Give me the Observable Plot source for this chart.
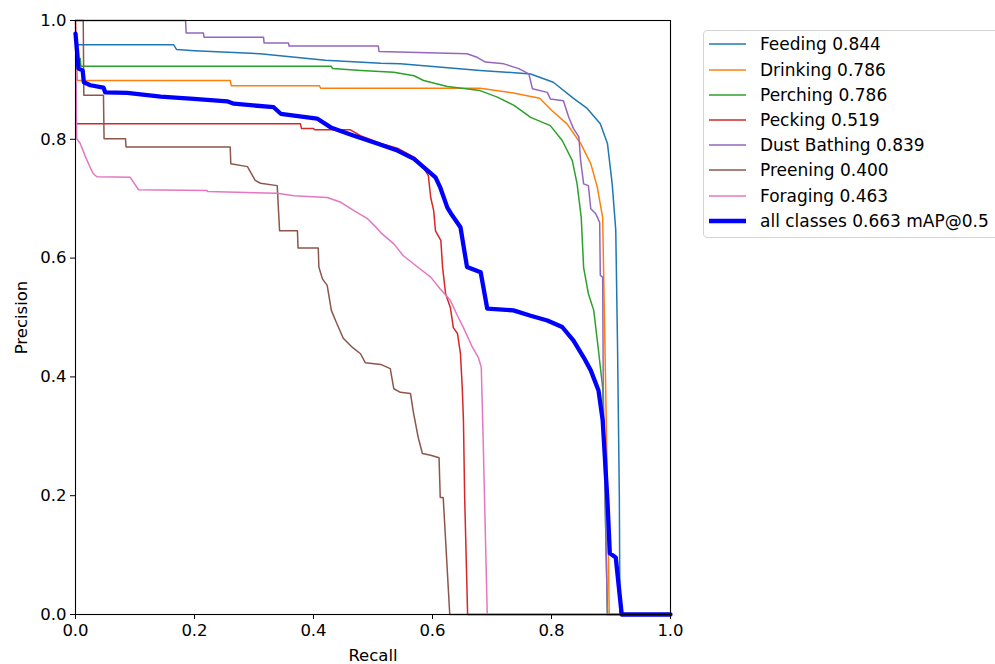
<!DOCTYPE html>
<html><head><meta charset="utf-8">
<script src="https://cdn.jsdelivr.net/npm/d3@7"></script>
<script src="https://cdn.jsdelivr.net/npm/@observablehq/plot@0.6"></script>
<style>
body{margin:0;background:#fff;font-family:"DejaVu Sans",sans-serif;}
#wrap{position:relative;width:995px;height:664px;overflow:hidden;background:#fff;}
#legend{position:absolute;left:703px;top:30px;width:330px;height:206px;border:1px solid #d4d4d4;border-radius:4px;background:#fff;}
.row{position:absolute;left:0;width:330px;height:22px;}
.sw{position:absolute;left:5px;top:0;}
.lt{position:absolute;left:56px;top:0;font-size:17px;line-height:22px;color:#000;white-space:nowrap;}
</style>
</head><body>
<div id="wrap"><div id="chart"></div><div id="legend"></div></div>
<script>
// Series names, AP values and colours
const names = ["Feeding", "Drinking", "Perching", "Pecking", "Dust Bathing", "Preening", "Foraging"];
const apValues = ["0.844", "0.786", "0.786", "0.519", "0.839", "0.400", "0.463"];
const colors = ["#1f77b4", "#ff7f0e", "#2ca02c", "#d62728", "#9467bd", "#8c564b", "#e377c2"];
const allLabel = "all classes 0.663 mAP@0.5";
const allColor = "#0000ff";

const feedingR = [0, 0.165, 0.17, 0.20, 0.31, 0.42, 0.513, 0.546, 0.68, 0.765, 0.803, 0.837, 0.86, 0.882, 0.894, 0.902, 0.908, 0.911, 0.914, 0.915, 1.0];
const feedingP = [0.959, 0.959, 0.951, 0.949, 0.944, 0.933, 0.928, 0.927, 0.916, 0.910, 0.896, 0.869, 0.852, 0.826, 0.793, 0.725, 0.647, 0.45, 0.2, 0, 0];

const drinkingR = [0, 0.003, 0.26, 0.262, 0.41, 0.412, 0.68, 0.736, 0.78, 0.80, 0.826, 0.849, 0.866, 0.877, 0.886, 0.892, 0.895, 0.897, 1.0];
const drinkingP = [1.0, 0.899, 0.899, 0.89, 0.89, 0.886, 0.886, 0.878, 0.869, 0.849, 0.826, 0.793, 0.759, 0.719, 0.668, 0.327, 0.15, 0, 0];

const perchingR = [0, 0.008, 0.009, 0.43, 0.432, 0.48, 0.535, 0.569, 0.585, 0.625, 0.68, 0.709, 0.737, 0.765, 0.798, 0.818, 0.835, 0.843, 0.85, 0.854, 0.862, 0.871, 0.879, 0.886, 0.888, 0.894, 1.0];
const perchingP = [0.936, 0.936, 0.923, 0.923, 0.919, 0.916, 0.913, 0.907, 0.899, 0.889, 0.882, 0.871, 0.857, 0.837, 0.823, 0.798, 0.764, 0.725, 0.668, 0.584, 0.540, 0.512, 0.444, 0.382, 0.30, 0, 0];

const peckingR = [0, 0.378, 0.38, 0.40, 0.402, 0.462, 0.479, 0.513, 0.541, 0.569, 0.585, 0.593, 0.597, 0.602, 0.605, 0.614, 0.617, 0.622, 0.630, 0.635, 0.642, 0.647, 0.650, 0.652, 0.654, 0.659, 1.0];
const peckingP = [0.826, 0.826, 0.818, 0.818, 0.816, 0.816, 0.806, 0.793, 0.785, 0.770, 0.752, 0.739, 0.702, 0.68, 0.646, 0.630, 0.584, 0.540, 0.517, 0.483, 0.473, 0.439, 0.382, 0.327, 0.2, 0, 0];

const dustR = [0, 0.185, 0.186, 0.215, 0.216, 0.316, 0.317, 0.358, 0.359, 0.509, 0.51, 0.658, 0.675, 0.689, 0.72, 0.745, 0.762, 0.768, 0.793, 0.798, 0.82, 0.829, 0.837, 0.846, 0.849, 0.854, 0.862, 0.866, 0.874, 0.877, 0.881, 0.882, 0.886, 0.887, 0.890, 0.894, 1.0];
const dustP = [1, 1, 0.979, 0.979, 0.972, 0.972, 0.962, 0.962, 0.957, 0.957, 0.948, 0.944, 0.938, 0.930, 0.927, 0.919, 0.910, 0.885, 0.879, 0.868, 0.865, 0.837, 0.818, 0.804, 0.764, 0.725, 0.722, 0.683, 0.675, 0.669, 0.660, 0.571, 0.568, 0.382, 0.2, 0, 0];

const preeningR = [0, 0.013, 0.014, 0.047, 0.048, 0.084, 0.085, 0.26, 0.261, 0.289, 0.302, 0.311, 0.339, 0.343, 0.373, 0.374, 0.408, 0.409, 0.415, 0.423, 0.430, 0.437, 0.45, 0.465, 0.479, 0.487, 0.513, 0.529, 0.535, 0.546, 0.563, 0.568, 0.576, 0.583, 0.597, 0.611, 0.613, 0.618, 0.629, 1.0];
const preeningP = [1, 1, 0.874, 0.874, 0.801, 0.801, 0.787, 0.787, 0.759, 0.754, 0.731, 0.726, 0.722, 0.646, 0.646, 0.617, 0.617, 0.585, 0.565, 0.554, 0.512, 0.495, 0.465, 0.45, 0.439, 0.424, 0.421, 0.414, 0.38, 0.374, 0.372, 0.340, 0.298, 0.271, 0.268, 0.264, 0.197, 0.197, 0, 0];

const foragingR = [0, 0.002, 0.008, 0.017, 0.025, 0.03, 0.036, 0.092, 0.106, 0.221, 0.222, 0.339, 0.367, 0.423, 0.446, 0.468, 0.49, 0.507, 0.513, 0.535, 0.551, 0.575, 0.597, 0.613, 0.630, 0.642, 0.652, 0.667, 0.677, 0.682, 0.685, 0.692, 1.0];
const foragingP = [1, 0.801, 0.793, 0.770, 0.752, 0.742, 0.737, 0.736, 0.715, 0.714, 0.712, 0.709, 0.705, 0.702, 0.694, 0.680, 0.667, 0.65, 0.643, 0.624, 0.604, 0.585, 0.568, 0.548, 0.529, 0.503, 0.483, 0.450, 0.433, 0.416, 0.30, 0, 0];

const allR = [0, 0.003, 0.005, 0.012, 0.014, 0.025, 0.047, 0.05, 0.087, 0.143, 0.199, 0.255, 0.266, 0.333, 0.345, 0.406, 0.429, 0.468, 0.507, 0.541, 0.569, 0.585, 0.605, 0.613, 0.625, 0.633, 0.647, 0.658, 0.681, 0.692, 0.736, 0.765, 0.793, 0.818, 0.837, 0.854, 0.866, 0.879, 0.886, 0.894, 0.898, 0.908, 0.918, 1.0];
const allP = [0.978, 0.944, 0.919, 0.916, 0.896, 0.891, 0.887, 0.879, 0.878, 0.872, 0.868, 0.864, 0.860, 0.854, 0.843, 0.835, 0.820, 0.806, 0.793, 0.781, 0.767, 0.753, 0.736, 0.719, 0.685, 0.672, 0.652, 0.585, 0.576, 0.515, 0.512, 0.503, 0.495, 0.484, 0.461, 0.433, 0.411, 0.377, 0.327, 0.192, 0.103, 0.096, 0, 0];

const tickValues = [0, 0.2, 0.4, 0.6, 0.8, 1.0];

const seriesR = [feedingR, drinkingR, perchingR, peckingR, dustR, preeningR, foragingR];
const seriesP = [feedingP, drinkingP, perchingP, peckingP, dustP, preeningP, foragingP];

const toRows = (R, P) => R.map((r, i) => ({r, p: P[i]}));

const marks = [];
seriesR.forEach((R, k) => {
  marks.push(Plot.line(toRows(R, seriesP[k]), {x: "r", y: "p", stroke: colors[k], strokeWidth: 1.5}));
});
marks.push(Plot.line(toRows(allR, allP), {x: "r", y: "p", stroke: allColor, strokeWidth: 4.3}));
marks.push(Plot.frame({stroke: "#000", strokeWidth: 1.1}));
marks.push(Plot.axisX({ticks: tickValues, tickSize: 5, tickPadding: 5, tickFormat: d3.format(".1f"), fontSize: 16.5, label: "Recall", labelAnchor: "center", labelArrow: "none", labelOffset: 46}));
marks.push(Plot.axisY({ticks: tickValues, tickSize: 5, tickPadding: 4, tickFormat: d3.format(".1f"), fontSize: 16.5, label: "Precision", labelAnchor: "center", labelArrow: "none", labelOffset: 60}));

const chart = Plot.plot({
  width: 995,
  height: 664,
  marginLeft: 75,
  marginRight: 325,
  marginTop: 20,
  marginBottom: 50,
  style: {fontFamily: "DejaVu Sans, sans-serif", fontSize: "16.5px", color: "#000", background: "#fff"},
  x: {domain: [0, 1]},
  y: {domain: [0, 1]},
  marks
});
document.getElementById("chart").appendChild(chart);

// Legend
const legend = document.getElementById("legend");
const entries = names.map((n, i) => ({label: n + " " + apValues[i], color: colors[i], w: 1.5}));
entries.push({label: allLabel, color: allColor, w: 4.3});
const svgNS = "http://www.w3.org/2000/svg";
entries.forEach((e, i) => {
  const row = document.createElement("div");
  row.className = "row";
  const cy = 13.3 + 25.2 * i;
  row.style.top = (cy - 11) + "px";
  const sw = document.createElementNS(svgNS, "svg");
  sw.setAttribute("class", "sw");
  sw.setAttribute("width", "37");
  sw.setAttribute("height", "22");
  const ln = document.createElementNS(svgNS, "line");
  ln.setAttribute("x1", "0"); ln.setAttribute("x2", "37");
  ln.setAttribute("y1", "11"); ln.setAttribute("y2", "11");
  ln.setAttribute("stroke", e.color);
  ln.setAttribute("stroke-width", e.w);
  sw.appendChild(ln);
  const t = document.createElement("div");
  t.className = "lt";
  t.textContent = e.label;
  row.appendChild(sw);
  row.appendChild(t);
  legend.appendChild(row);
});
</script>
</body></html>
